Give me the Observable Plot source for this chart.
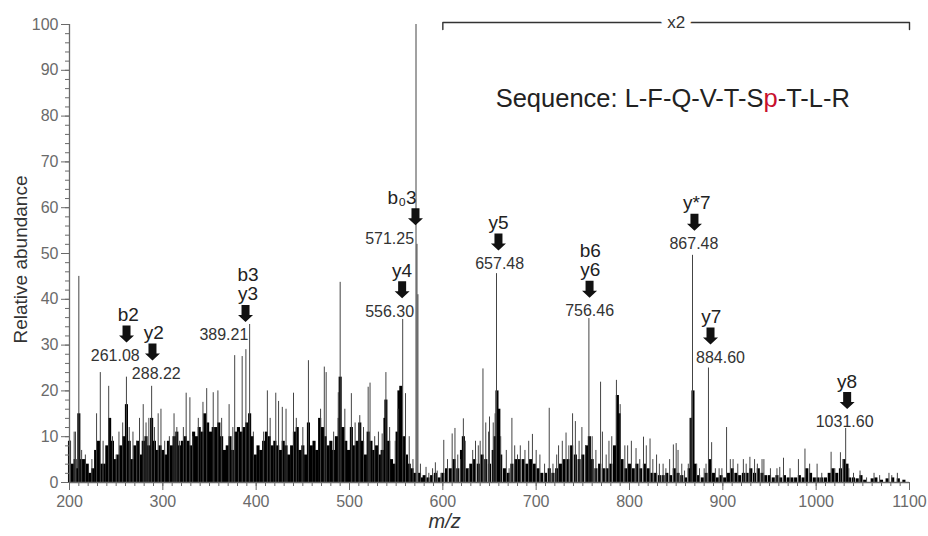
<!DOCTYPE html>
<html><head><meta charset="utf-8">
<script src="https://cdn.jsdelivr.net/npm/d3@7"></script>
<script src="https://cdn.jsdelivr.net/npm/@observablehq/plot@0.6"></script>
<style>body{margin:0;background:#fff}</style>
</head><body><div id="chart"></div>
<script>
// ---- Spectrum data (m/z, relative abundance as drawn) ----
const spikeMz = [201,205,206.4,210,213,217,224,229,233,236,242,246,250,253,257,261,264,268,272,275,279,282,285,288,291,295,298,302,307,312,315,318,322,325,329,332,338,343,347,
354,359,363,371,375,377,381,385,389,393,397,408,412,415,421,424,428,432,440,443,450,456,469,473,475,483,488,490,495,
502,506,511,515,520,522,527,531,535,539,543,549,552,557,560,564,568,571.25,572.3,573.3,576,
582,585,589,592,594,598,601,605,610,613,616,619,622,624,628,632,635,638,640,643,646,649,650,654,656,657.5,662,668,671,674,677,680,683,688,692,696,700,704,709,714,718,722,724,728,732,735,739,742,746,749,753,756.5,760,764,769,771,775,778,781,786,790,795,
798,802,807,811,815,818,822,825,829,832,836,839,843,847,850,852,856,859,863,866,867.5,872,875,880,882,884.6,888,892,896,899,904,908,911,916,922,925,929,934,937,942,944,951,958,961,965,972,981,988,993,1001,1006,1016,1020,1026,1029,1031.6,1035,1040,1047,1054,1062,1068,1078,1081,1087];
const spikeInt = [9,11,11,45,7,6,5,15,24,9,21,10,6,11,13,23,12,11,9,14,17,13,14,21,12,15,16,9,10,15,12,9,12,19.5,18.5,10,14,17.5,20.5,
19.6,20,14,17,12,27.7,11,27.5,29,34.5,11,11,20,14,19.5,17.7,16.4,16,19.5,14,12,26.6,16,25.2,24,11,19.6,43.7,16,
19.4,13,14.6,12,20.8,21.7,10,11,10.6,24,12,9,16,35.6,19.4,10,5,100,52,41,4,
3.3,2,3,4.3,2.5,2,9.2,5,10.6,11.8,6,5,13.9,9,3,7,9,8,9,24.8,13,11,14.3,13,15,45.6,10,7,3,14,8,6,8,7,9,10.5,7,6,4,16.2,4,6,8,9,10.8,8,15,13.3,9,12,8,35.8,10,7,21.9,11,6,9,10,22.3,17,8,
8,9,7.4,5,9.9,8,9.5,5,6,4,4,3,5,8.2,8.5,7,4,2.5,4,14,49.6,4,3,3,4,25,8.7,3,3,3,12,5,5,4,5,4,5.5,5,4,5,5,3,3,3.3,5.3,3,5,7.3,4,4,2,6.6,3,6.5,5,11.8,3,2,2.5,1,2,1.5,2,1.5,2];

const denseMz = [200,203,206,209,210,213,216,219,222,225,228,231,234,237,240,243,246,249,252,255,258,261,264,267,270,273,276,279,282,285,288,291,294,297,300,303,306,309,312,315,318,321,324,327,330,333,336,339,342,345,348,351,354,357,360,363,366,369,372,375,378,381,384,387,390,393,396,399,402,405,408,411,414,417,420,423,426,429,432,435,438,441,444,447,450,453,456,459,462,465,468,471,474,477,480,483,486,489,490,493,496,499,502,505,508,511,514,517,520,523,526,529,532,535,538,539,542,545,548,551,553,555,558,561,564,567,570,575,578,
580,584,588,592,596,600,604,608,612,616,620,622,626,630,634,638,642,646,650,654,656,658,660,662,666,670,674,678,682,686,690,694,698,702,706,710,714,718,722,726,730,734,738,742,746,750,754,757,760,764,768,772,776,780,784,787,789,792,796,800,804,808,812,816,820,824,828,832,836,840,844,848,852,856,860,864,866,868,870,874,878,882,886,890,894,898,902,906,910,914,918,922,926,930,934,938,942,946,950,954,958,962,966,970,974,978,982,986,990,994,998,1002,1006,1010,1014,1018,1022,1026,1030,1033,1036,1040,1044,1048,1052,1060,1064,1070,1076,1082,1088,1094];
const denseInt = [9,4,5,3,15,5,5,4,2,3,7,9,4,4,8,14,9,5,6,8,10,17,9,5,8,9,6,9,10,8,14,9,7,8,7,6,9,8,10,11,8,9,10,9,8,11,10,12,11,15,13,11,12,12,13,10,7,8,10,7,11,12,11,12,13,15,10,6,8,7,9,11,10,8,9,8,7,9,8,6,8,11,12,7,8,6,13,8,9,7,14,12,10,8,9,7,10,14,23,12,9,7,12,8,9,13,9,6,11,9,7,8,6,7,14,18,9,5,4,11,20,21,10,6,4,3,2,2,1,
1.5,1,1.5,2,1,2,3,3,5,3,7,10,3,4,5,4,6,5,4,7,10,20,16,6,3,2,4,5,5,5,4,5,4,3,2,2,3,2,3,4,5,5,8,6,5,6,8,10,5,3,4,3,3,4,8,19,15,5,3,4,3,4,3,4,3,2,2,1.5,1.5,2,1.5,3,2,1.5,1,3,14,20,4,1.5,1,2,5,2,1,1.5,1,2,3,2,1.5,2,2,3,2,3,2,1.5,1.5,1,1.5,1,1.5,1,1,1,1.5,1,3,2,1,1,1,1,2,3,2,3,5,4,1,1,0.8,1.5,0.5,0.8,1,0.5,0.8,1,0.8,0.5];

// ---- Annotations ----
const ionLabels  = ["b2","y2","b3\ny3","b\u20803","y4","y5","b6\ny6","y*7","y7","y8"];
const ionValues  = ["261.08","288.22","389.21","571.25","556.30","657.48","756.46","867.48","884.60","1031.60"];
const arrowMz    = [261.1,288.9,388.6,570.7,556.4,659.6,757.2,869.6,886.8,1033.2];
const arrowLevel = [32.4,28.5,36.9,58.0,42.1,52.5,42.2,56.8,32.0,17.9];
const labelMz    = [263,290.3,391.2,556.4,556.4,659.6,758,872.1,887.6,1033.2];
const valueMz    = [249,293,365.4,543,543,660.9,757.3,869,897.5,1030.5];

const yTicks = d3.range(0, 101, 10);
const yMinor = d3.range(0, 101, 2);
const xTicks = d3.range(200, 1101, 100);
const xMinor = d3.range(200, 1101, 10);

const sequenceText = "Sequence: L-F-Q-V-T-Sp-T-L-R";
const sequencePos = {mz: 846.4, level: 83.8};
const zoomRange = [600, 1100];
const zoomLabel = "x2";

const spikes = spikeMz.map((mz, i) => ({mz, int: spikeInt[i]}));
const dense = denseMz.map((mz, i) => ({mz, int: denseInt[i]}));
const ann = ionLabels.map((ion, i) => ({ion, value: ionValues[i], arrowMz: arrowMz[i], arrowLevel: arrowLevel[i], labelMz: labelMz[i], valueMz: valueMz[i]}));

const arrowSymbol = {
  draw(ctx) {
    ctx.moveTo(-4, -8.5); ctx.lineTo(4, -8.5); ctx.lineTo(4, 1.5); ctx.lineTo(7.5, 1.5);
    ctx.lineTo(0, 8.5); ctx.lineTo(-7.5, 1.5); ctx.lineTo(-4, 1.5); ctx.closePath();
  }
};

const bracket = [
  {mz: zoomRange[0], level: 98.9}, {mz: zoomRange[0], level: 100.45},
  {mz: zoomRange[1], level: 100.45}, {mz: zoomRange[1], level: 98.9}
];

const font = "'Liberation Sans', Arial, sans-serif";
const axisColor = "#6a6a6a";

const chart = Plot.plot({
  width: 928, height: 536,
  marginLeft: 69, marginRight: 19, marginTop: 24, marginBottom: 54,
  x: {domain: [200, 1100]},
  y: {domain: [0, 100]},
  style: {fontFamily: font, background: "#fff", overflow: "visible"},
  marks: [
    Plot.ruleX(dense, {x: "mz", y1: 0, y2: "int", stroke: "#000", strokeWidth: 3.1}),
    Plot.ruleX(spikes, {x: "mz", y1: 0, y2: "int", stroke: "#444", strokeWidth: 1}),
    Plot.axisY({ticks: yTicks, tickSize: 8, tickPadding: 3, color: axisColor, fontSize: 16, label: null}),
    Plot.axisY({ticks: yMinor, tickSize: 4, text: null, color: axisColor, label: null}),
    Plot.axisX({ticks: xTicks, tickSize: 8, tickPadding: 5, tickFormat: d => String(d), color: axisColor, fontSize: 16, label: null}),
    Plot.axisX({ticks: xMinor, tickSize: 4, text: null, color: axisColor, label: null}),
    Plot.ruleX([200], {stroke: axisColor, strokeWidth: 1.3}),
    Plot.ruleY([0], {stroke: axisColor, strokeWidth: 1.3}),
    Plot.text(["Relative abundance"], {frameAnchor: "left", textAnchor: "middle", rotate: -90, dx: -49, dy: 6, fontSize: 19, fill: "#333"}),
    Plot.text(["m/z"], {x: 602, frameAnchor: "bottom", dy: 45, fontSize: 20, fontStyle: "italic", fill: "#333"}),
    // x2 bracket
    Plot.line(bracket, {x: "mz", y: "level", stroke: "#333", strokeWidth: 1.4}),
    Plot.text([zoomLabel], {x: (zoomRange[0] + zoomRange[1]) / 2, y: 100.45, fontSize: 17, fill: "#333", stroke: "#fff", strokeWidth: 14, paintOrder: "stroke"}),
    Plot.text([sequenceText], {x: sequencePos.mz, y: sequencePos.level, fontSize: 25.5, fill: "#222"}),
    // annotations
    Plot.dot(ann, {x: "arrowMz", y: "arrowLevel", symbol: arrowSymbol, fill: "#111", stroke: null, r: 5}),
    Plot.text(ann, {x: "labelMz", y: "arrowLevel", text: "ion", dy: -13, lineAnchor: "bottom", lineHeight: 1.0, fontSize: 19, fill: "#222"}),
    Plot.text(ann, {x: "valueMz", y: "arrowLevel", text: "value", dy: 15.5, lineAnchor: "top", fontSize: 16, fill: "#333"})
  ]
});

document.getElementById("chart").appendChild(chart);

// colour the phosphorylation "p" in the sequence
chart.querySelectorAll("text").forEach(t => {
  if (t.textContent === sequenceText) {
    const ns = "http://www.w3.org/2000/svg";
    const i = sequenceText.indexOf("Sp") + 1;
    const parts = [[sequenceText.slice(0, i), null], [sequenceText.slice(i, i + 1), "#c8102e"], [sequenceText.slice(i + 1), null]];
    t.textContent = "";
    for (const [s, c] of parts) {
      const ts = document.createElementNS(ns, "tspan");
      ts.textContent = s;
      if (c) ts.setAttribute("fill", c);
      t.appendChild(ts);
    }
  }
});
</script>
</body></html>
